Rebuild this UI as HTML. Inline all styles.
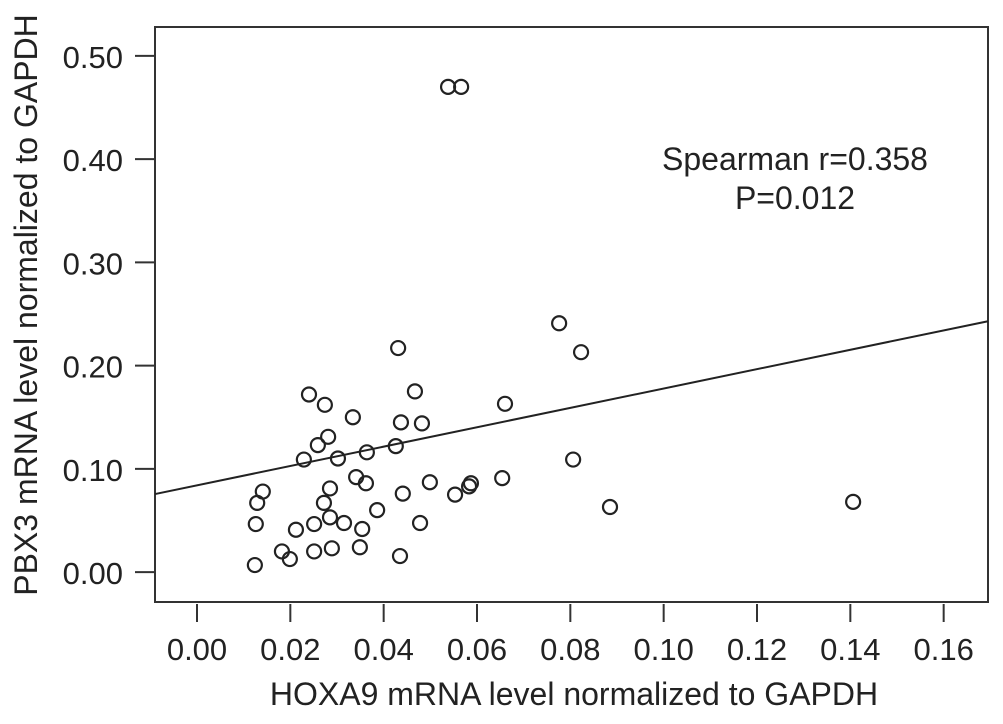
<!DOCTYPE html>
<html><head><meta charset="utf-8"><style>
body{margin:0;background:#fff;}
svg text{font-family:"Liberation Sans",sans-serif;fill:#222;}
</style></head><body>
<svg width="1003" height="719" id="chart">
<rect x="155" y="27" width="833" height="575" fill="none" stroke="#333" stroke-width="2"/>
<g id="xt"></g>
<g id="yt"></g>
<g id="pts"></g>
<text x="574" y="705" font-size="32" text-anchor="middle">HOXA9 mRNA level normalized to GAPDH</text>
<text transform="translate(37,305) rotate(-90)" font-size="32" text-anchor="middle">PBX3 mRNA level normalized to GAPDH</text>
<text x="795" y="170" font-size="32" text-anchor="middle">Spearman r=0.358</text>
<text x="795" y="209" font-size="32" text-anchor="middle">P=0.012</text>
</svg>
<script>
const xTicks=[0,0.02,0.04,0.06,0.08,0.10,0.12,0.14,0.16];
const xTickLabels=["0.00","0.02","0.04","0.06","0.08","0.10","0.12","0.14","0.16"];
const yTicks=[0,0.1,0.2,0.3,0.4,0.5];
const yTickLabels=["0.00","0.10","0.20","0.30","0.40","0.50"];
const hoxa9=[0.0538,0.0566,0.0776,0.0823,0.0431,0.024,0.0274,0.0467,0.0334,0.0281,0.0259,0.0437,0.0482,0.0364,0.0426,0.066,0.0229,0.0302,0.0341,0.0362,0.0285,0.0141,0.0129,0.0272,0.0126,0.0285,0.0386,0.0441,0.0499,0.0553,0.0583,0.0587,0.0654,0.0806,0.0885,0.1406,0.0212,0.0251,0.0315,0.0354,0.0478,0.0182,0.0199,0.0251,0.0289,0.0349,0.0435,0.0124];
const pbx3=[0.470,0.470,0.241,0.213,0.217,0.172,0.162,0.175,0.150,0.131,0.123,0.145,0.144,0.116,0.122,0.163,0.109,0.110,0.092,0.086,0.081,0.078,0.067,0.067,0.0465,0.053,0.060,0.076,0.087,0.075,0.083,0.086,0.091,0.109,0.063,0.068,0.041,0.0465,0.0475,0.0417,0.0475,0.020,0.0126,0.020,0.023,0.024,0.0155,0.0068];
const fitSlope=[0.938];
const fitIntercept=[0.084];
const NS="http://www.w3.org/2000/svg";
const X0=155,X1=988,Y0=602,Y1=27,xmin=-0.009,xmax=0.1695,ymin=-0.029,ymax=0.528;
const sx=v=>X0+(v-xmin)/(xmax-xmin)*(X1-X0);
const sy=v=>Y0-(v-ymin)/(ymax-ymin)*(Y0-Y1);
function mk(t,a,p){const e=document.createElementNS(NS,t);for(const k in a)e.setAttribute(k,a[k]);p.appendChild(e);return e;}
const xt=document.getElementById('xt'),yt=document.getElementById('yt'),pts=document.getElementById('pts');
xTicks.forEach((v,i)=>{const x=sx(v);
 const l=mk('line',{x1:x,x2:x,y1:Y0+2,y2:Y0+20,stroke:'#333','stroke-width':2},xt);
 
 
 const t=mk('text',{x:x,y:660,'font-size':31,'text-anchor':'middle'},xt);t.textContent=xTickLabels[i];
 
 });
yTicks.forEach((v,i)=>{const y=sy(v);
 const l=mk('line',{x1:X0-20,x2:X0,y1:y,y2:y,stroke:'#333','stroke-width':2},yt);
 
 
 const t=mk('text',{x:123,y:y+12,'font-size':31,'text-anchor':'end'},yt);t.textContent=yTickLabels[i];
 
 });
const fl=mk('line',{x1:X0,y1:sy(fitIntercept[0]+fitSlope[0]*xmin),x2:X1,y2:sy(fitIntercept[0]+fitSlope[0]*xmax),stroke:'#222','stroke-width':2},pts);


hoxa9.forEach((v,i)=>{const c=mk('circle',{cx:sx(v),cy:sy(pbx3[i]),r:7,fill:'none',stroke:'#222','stroke-width':2.2},pts);
 
 });
</script>
</body></html>
